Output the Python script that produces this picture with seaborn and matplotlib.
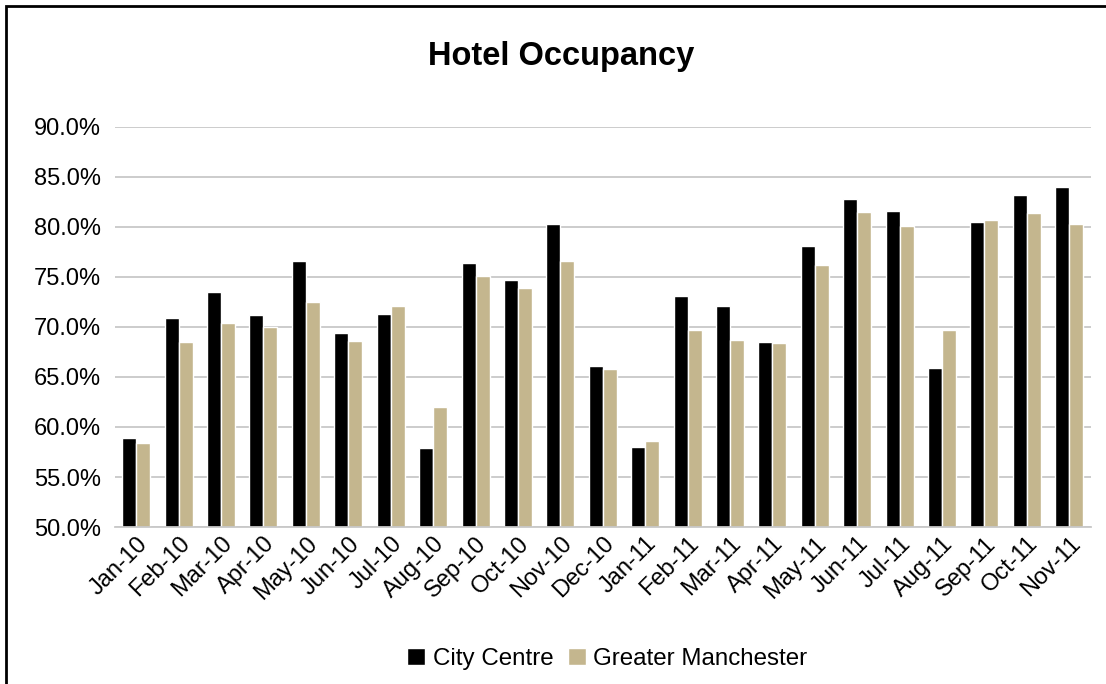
import pandas as pd
import numpy as np
import seaborn as sns
import matplotlib.pyplot as plt
import matplotlib.patches as patches
from matplotlib.ticker import PercentFormatter

months = ['Jan-10', 'Feb-10', 'Mar-10', 'Apr-10', 'May-10', 'Jun-10', 'Jul-10', 'Aug-10',
          'Sep-10', 'Oct-10', 'Nov-10', 'Dec-10', 'Jan-11', 'Feb-11', 'Mar-11', 'Apr-11',
          'May-11', 'Jun-11', 'Jul-11', 'Aug-11', 'Sep-11', 'Oct-11', 'Nov-11']
city_centre = [58.9, 70.9, 73.5, 71.2, 76.6, 69.4, 71.3, 57.9, 76.4, 74.7, 80.3, 66.1,
               58.0, 73.1, 72.1, 68.5, 78.1, 82.8, 81.6, 65.9, 80.5, 83.2, 84.0]
greater_manchester = [58.4, 68.5, 70.4, 70.0, 72.5, 68.6, 72.1, 62.0, 75.1, 73.9, 76.6, 65.8,
                      58.6, 69.7, 68.7, 68.4, 76.2, 81.5, 80.1, 69.7, 80.7, 81.4, 80.3]
series = ['City Centre', 'Greater Manchester']
colors = ['#000000', '#C4B68E']

df = pd.DataFrame({'Month': months * 2,
                   'Occupancy': city_centre + greater_manchester,
                   'Series': [series[0]] * len(months) + [series[1]] * len(months)})

sns.set_theme(style='white')
plt.rcParams['font.family'] = ['Liberation Sans', 'DejaVu Sans']
plt.rcParams['text.color'] = 'black'
plt.rcParams['xtick.color'] = 'black'
plt.rcParams['ytick.color'] = 'black'

fig = plt.figure(figsize=(11.06, 6.84), dpi=100)
ax = fig.add_axes([0.104, 0.2295, 0.882, 0.585])

sns.barplot(data=df, x='Month', y='Occupancy', hue='Series', palette=colors,
            width=0.66, gap=0, ax=ax, saturation=1)

ax.set_ylim(50, 90)
ax.set_yticks(np.arange(50, 90.1, 5))
ax.yaxis.set_major_formatter(PercentFormatter(decimals=1))
ax.set_xlim(-0.5, len(months) - 0.5)
ax.yaxis.grid(True, color='#C8C8C8', lw=1.3)
ax.set_axisbelow(True)
for s in ['top', 'right', 'left']:
    ax.spines[s].set_visible(False)
ax.spines['bottom'].set_color('#C8C8C8')
ax.spines['bottom'].set_linewidth(1.3)
ax.tick_params(axis='y', labelsize=17, pad=10, length=0, labelcolor='black')
ax.tick_params(axis='x', labelsize=17, pad=4, length=0, labelcolor='black')
plt.setp(ax.get_xticklabels(), rotation=45, ha='right', rotation_mode='anchor')
ax.set_xlabel('')
ax.set_ylabel('')

fig.text(0.507, 0.918, 'Hotel Occupancy', ha='center', va='center',
         fontsize=23.5, fontweight='bold', color='black')

handles, labels = ax.get_legend_handles_labels()
leg = ax.legend(handles, labels, loc='center', bbox_to_anchor=(0.549, 0.037),
                bbox_transform=fig.transFigure, ncol=2, frameon=False, fontsize=17.4,
                handlelength=0.75, handleheight=0.75, handletextpad=0.3, columnspacing=0.6)
for t in leg.get_texts():
    t.set_color('black')

# outer border of the chart area
fig.add_artist(patches.Rectangle((6 / 1106, -0.1), 1.2, 1 - 6 / 684 + 0.1,
                                 transform=fig.transFigure, fill=False,
                                 ec='black', lw=2))

fig.savefig('out.png', dpi=100)
